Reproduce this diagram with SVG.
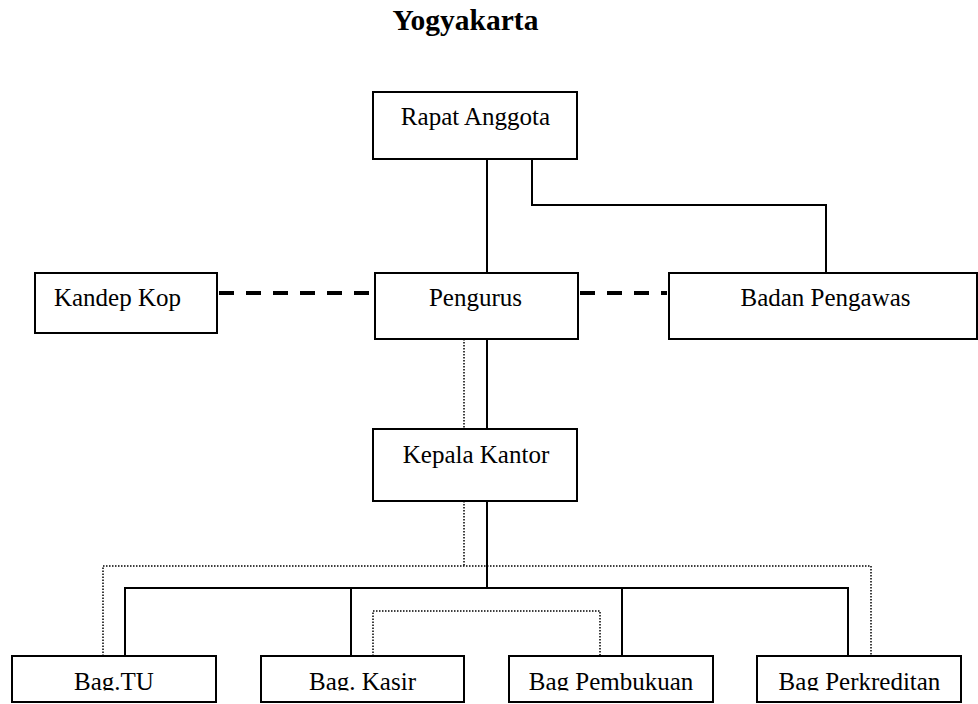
<svg xmlns="http://www.w3.org/2000/svg" width="978" height="704" viewBox="0 0 978 704">
<style>
.box{fill:#fff;stroke:#000;stroke-width:2}
.t{font-family:"Liberation Serif","Times New Roman",serif;font-size:25px;fill:#000;text-anchor:middle}
.title{font-family:"Liberation Serif","Times New Roman",serif;font-size:29.5px;font-weight:bold;fill:#000;text-anchor:middle}
.solid{fill:none;stroke:#000;stroke-width:2}
.dash{fill:none;stroke:#000;stroke-width:4;stroke-dasharray:15 12}
.dot{fill:none;stroke:#000;stroke-width:1.5;stroke-dasharray:1.5 1.5}
</style>
<defs>
<clipPath id="cb"><rect x="0" y="650" width="978" height="40.5"/></clipPath>
</defs>
<rect width="978" height="704" fill="#fff"/>
<text class="title" x="465.5" y="30">Yogyakarta</text>
<g id="connectors">
<path class="solid" d="M487 159V273"/>
<path class="solid" d="M532 159V205H826V273"/>
<path class="dash" d="M219 293H373"/>
<path class="dash" d="M580 293H667"/>
<path class="solid" d="M487 339V429"/>
<path class="dot" d="M464 339V429"/>
<path class="solid" d="M487 501V588"/>
<path class="solid" d="M125 656V588H848V656"/>
<path class="solid" d="M351 588V656"/>
<path class="solid" d="M622 588V656"/>
<path class="dot" d="M464 501V566"/>
<path class="dot" d="M103 656V566H871V656"/>
<path class="dot" d="M373 656V611H600V656"/>
</g>
<g id="rapat"><rect class="box" x="373" y="92" width="204" height="67"/><text class="t" x="475.5" y="125">Rapat Anggota</text></g>
<g id="kandep"><rect class="box" x="35" y="273" width="182" height="60"/><text class="t" x="117.5" y="306">Kandep Kop</text></g>
<g id="pengurus"><rect class="box" x="375" y="273" width="203" height="66"/><text class="t" x="475.5" y="306">Pengurus</text></g>
<g id="badan"><rect class="box" x="669" y="273" width="308" height="66"/><text class="t" x="825.5" y="306">Badan Pengawas</text></g>
<g id="kepala"><rect class="box" x="373" y="429" width="204" height="72"/><text class="t" x="476" y="463">Kepala Kantor</text></g>
<g id="bagtu"><rect class="box" x="12" y="656" width="204" height="46"/><text class="t" x="114" y="690" clip-path="url(#cb)">Bag.TU</text></g>
<g id="kasir"><rect class="box" x="261" y="656" width="203" height="46"/><text class="t" x="362.5" y="690" clip-path="url(#cb)">Bag. Kasir</text></g>
<g id="pembukuan"><rect class="box" x="509" y="656" width="204" height="46"/><text class="t" x="611" y="690" clip-path="url(#cb)">Bag Pembukuan</text></g>
<g id="perkreditan"><rect class="box" x="757" y="656" width="204" height="46"/><text class="t" x="859.5" y="690" clip-path="url(#cb)">Bag Perkreditan</text></g>
</svg>
